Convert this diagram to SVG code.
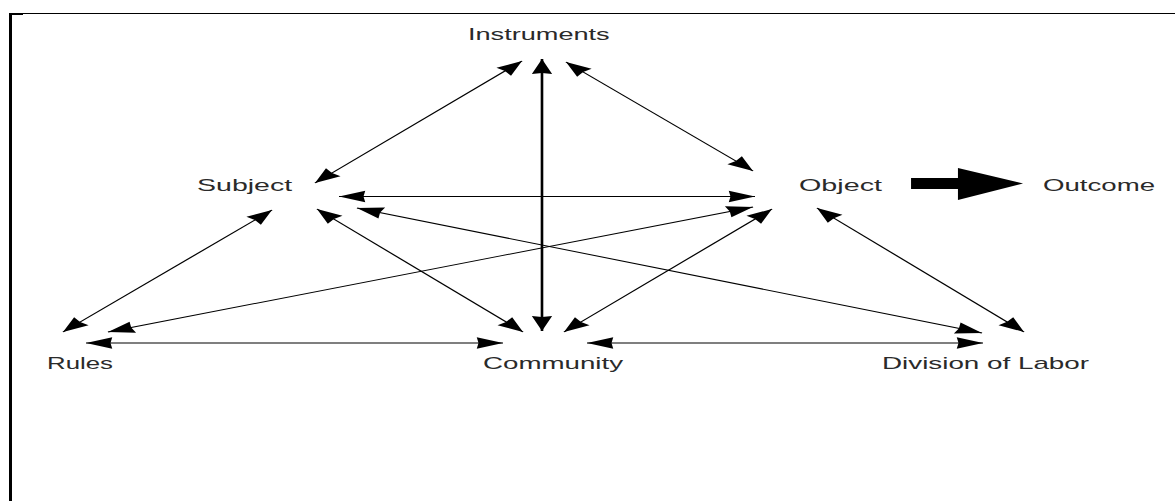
<svg xmlns="http://www.w3.org/2000/svg" width="1175" height="501" viewBox="0 0 1175 501">
<style>
.lbl{font-family:"Liberation Sans",Arial,sans-serif;font-size:16px;fill:#2a2a2a;}
.c{stroke:#000;stroke-width:1;fill:none;marker-start:url(#ah);marker-end:url(#ah);}
</style>
<defs>
<marker id="ah" markerUnits="userSpaceOnUse" orient="auto-start-reverse" refX="0" refY="0" markerWidth="16" markerHeight="12" overflow="visible">
<path d="M0,0 L-15,-5.8 L-14,0 L-15,5.8 Z" fill="#000"/>
</marker>
</defs>
<rect x="0" y="0" width="1175" height="501" fill="#fff"/>
<path d="M9,13.5 H1175" stroke="#000" stroke-width="1"/>
<rect x="9" y="13" width="3" height="488" fill="#000"/>
<rect x="9" y="13" width="14" height="2" fill="#000"/>
<g transform="scale(1.75,1)">
<g id="connectors">
<line class="c" x1="298.29" y1="61" x2="180" y2="183"/>
<line class="c" x1="309.71" y1="59" x2="309.71" y2="331" style="stroke-width:1.5"/>
<line class="c" x1="323.43" y1="62" x2="430.29" y2="171"/>
<line class="c" x1="193.71" y1="196.5" x2="431.43" y2="196.5"/>
<line class="c" x1="204" y1="208" x2="561.14" y2="333"/>
<line class="c" x1="155.43" y1="210" x2="36" y2="332"/>
<line class="c" x1="181.14" y1="209" x2="298.86" y2="332"/>
<line class="c" x1="430.29" y1="207" x2="61.71" y2="332"/>
<line class="c" x1="441.14" y1="209" x2="322.29" y2="332"/>
<line class="c" x1="466.86" y1="208" x2="585.14" y2="332"/>
<line class="c" x1="49.14" y1="343" x2="287.43" y2="343"/>
<line class="c" x1="335.43" y1="343" x2="561.71" y2="343"/>
<polygon points="520.6,178 547.4,178 547.4,168 584.6,183.5 547.4,200 547.4,189 520.6,189" fill="#000"/>
</g>
<g id="node-instruments"><text class="lbl" x="267.4" y="40" textLength="81" lengthAdjust="spacingAndGlyphs">Instruments</text></g>
<g id="node-subject"><text class="lbl" x="112.6" y="191" textLength="54.3" lengthAdjust="spacingAndGlyphs">Subject</text></g>
<g id="node-object"><text class="lbl" x="456.6" y="191" textLength="47.4" lengthAdjust="spacingAndGlyphs">Object</text></g>
<g id="node-outcome"><text class="lbl" x="596" y="191" textLength="64" lengthAdjust="spacingAndGlyphs">Outcome</text></g>
<g id="node-rules"><text class="lbl" x="26.9" y="369" textLength="37.7" lengthAdjust="spacingAndGlyphs">Rules</text></g>
<g id="node-community"><text class="lbl" x="276" y="369" textLength="80" lengthAdjust="spacingAndGlyphs">Community</text></g>
<g id="node-division"><text class="lbl" x="504" y="369" textLength="118.3" lengthAdjust="spacingAndGlyphs">Division of Labor</text></g>
</g>
</svg>
